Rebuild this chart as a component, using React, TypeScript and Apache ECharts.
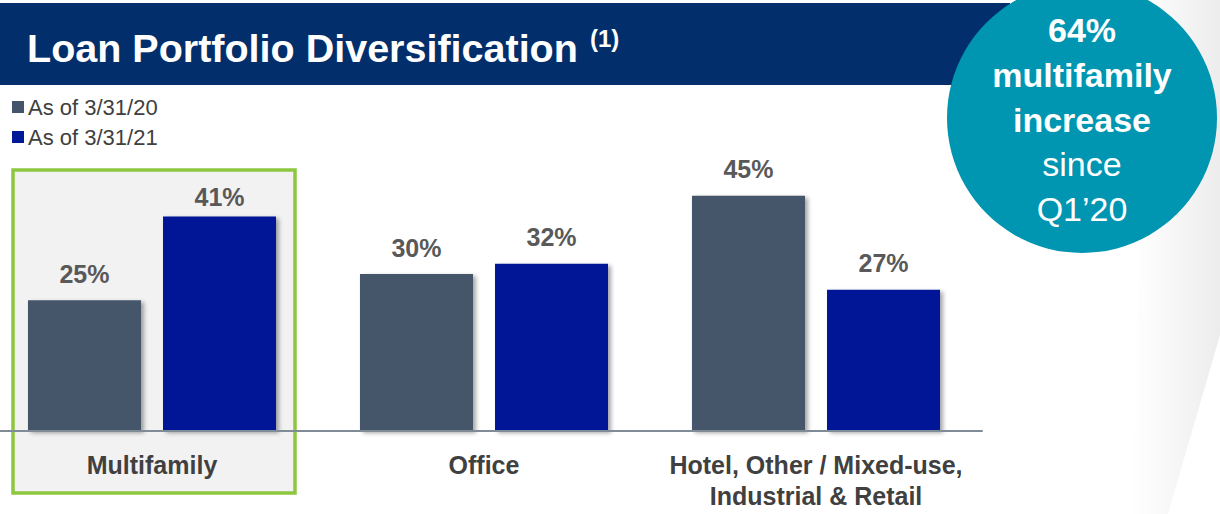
import React, { useEffect, useRef } from "react";
import * as echarts from "echarts";

const categories = ["Multifamily", "Office", "Hotel, Other / Mixed-use,\nIndustrial & Retail"];
const series2020 = [25, 30, 45];
const series2021 = [41, 32, 27];
const seriesNames = ["As of 3/31/20", "As of 3/31/21"];
const titleText = "Loan Portfolio Diversification";
const calloutLines = ["64%", "multifamily", "increase", "since", "Q1\u201920"];

const FONT = "'Liberation Sans', Arial, sans-serif";
const OX = 14; // chart canvas is shifted left by this many px

export default function App() {
  const ref = useRef<HTMLDivElement>(null);
  useEffect(() => {
    if (!ref.current) return;
    const chart = echarts.init(ref.current, null, { renderer: "svg" });
    const calloutBold = [true, true, true, false, false];
    chart.setOption({
      animation: false,
      backgroundColor: "#ffffff",
      textStyle: { fontFamily: FONT },
      legend: {
        orient: "vertical",
        left: 7 + OX,
        top: 91,
        itemWidth: 12,
        itemHeight: 12,
        itemGap: 8,
        icon: "rect",
        selectedMode: false,
        textStyle: { fontSize: 22, color: "#404040", fontFamily: FONT, lineHeight: 22, padding: [0, 0, 0, -1] },
        data: seriesNames,
      },
      grid: { left: 0, right: 238, top: 169.5, bottom: 83, containLabel: false },
      xAxis: {
        type: "category",
        data: categories,
        axisLine: { show: true, lineStyle: { color: "#7F8C97", width: 2 } },
        axisTick: { show: false },
        axisLabel: {
          interval: 0,
          margin: 18.5,
          fontSize: 25,
          fontWeight: "bold",
          color: "#404040",
          lineHeight: 31,
          fontFamily: FONT,
        },
        z: 5,
      },
      yAxis: {
        type: "value",
        min: 0,
        max: 50,
        show: false,
        splitLine: { show: false },
      },
      series: [
        {
          name: seriesNames[0],
          type: "bar",
          data: series2020,
          barWidth: 113,
          barGap: "19.5%",
          itemStyle: {
            color: "#44546A",
            shadowColor: "rgba(0,0,0,0.35)",
            shadowBlur: 4,
            shadowOffsetX: 3,
            shadowOffsetY: 2,
          },
          label: {
            show: true,
            position: "top",
            distance: 14,
            formatter: "{c}%",
            fontSize: 25,
            fontWeight: "bold",
            color: "#595959",
            fontFamily: FONT,
          },
        },
        {
          name: seriesNames[1],
          type: "bar",
          data: series2021.map((v, i) => (i === 0 ? { value: v, label: { distance: 7 } } : v)),
          barWidth: 113,
          barGap: "19.5%",
          itemStyle: {
            color: "#001996",
            shadowColor: "rgba(0,0,0,0.35)",
            shadowBlur: 4,
            shadowOffsetX: 3,
            shadowOffsetY: 2,
          },
          label: {
            show: true,
            position: "top",
            distance: 14,
            formatter: "{c}%",
            fontSize: 25,
            fontWeight: "bold",
            color: "#595959",
            fontFamily: FONT,
          },
        },
      ],
      graphic: [
        {
          type: "polygon",
          z: -10,
          shape: { points: [[1150 + OX, 0], [1220 + OX, 0], [1220 + OX, 335], [1168 + OX, 514], [1130 + OX, 514]] },
          style: {
            fill: new echarts.graphic.LinearGradient(0, 0, 1, 0, [
              { offset: 0, color: "rgba(240,240,240,0)" },
              { offset: 1, color: "rgba(236,236,236,1)" },
            ]),
          },
          silent: true,
        },
        {
          type: "rect",
          z: -5,
          shape: { x: 0, y: 3, width: 1010 + OX, height: 82 },
          style: { fill: "#022F6B" },
          silent: true,
        },
        {
          type: "text",
          z: 10,
          x: 27 + OX,
          y: 48,
          style: {
            text: titleText,
            fill: "#ffffff",
            font: `bold 39.5px ${FONT}`,
            verticalAlign: "middle",
          },
          silent: true,
        },
        {
          type: "text",
          z: 10,
          x: 590 + OX,
          y: 38,
          style: {
            text: "(1)",
            fill: "#ffffff",
            font: `bold 24px ${FONT}`,
            verticalAlign: "middle",
          },
          silent: true,
        },
        {
          type: "rect",
          z: -4,
          shape: { x: 13 + OX, y: 170, width: 282, height: 323 },
          style: { fill: "#F2F2F2", stroke: "#8DC63F", lineWidth: 3.5 },
          silent: true,
        },
        {
          type: "circle",
          z: 100,
          shape: { cx: 1082 + OX, cy: 118, r: 135 },
          style: { fill: "#0095B1" },
          silent: true,
        },
        ...calloutLines.map((t, i) => ({
          type: "text",
          z: 101,
          x: 1082 + OX,
          y: 30 + i * 44.75,
          style: {
            text: t,
            fill: "#ffffff",
            font: `${calloutBold[i] ? "bold " : ""}34px ${FONT}`,
            align: "center",
            verticalAlign: "middle",
          },
          silent: true,
        })),
      ],
    });
    return () => chart.dispose();
  }, []);
  return (
    <div style={{ position: "absolute", left: 0, top: 0, width: 1220, height: 514, overflow: "hidden" }}>
      <div
        ref={ref}
        style={{ position: "absolute", left: -OX, top: 0, width: 1220 + OX, height: 514 }}
      />
    </div>
  );
}
